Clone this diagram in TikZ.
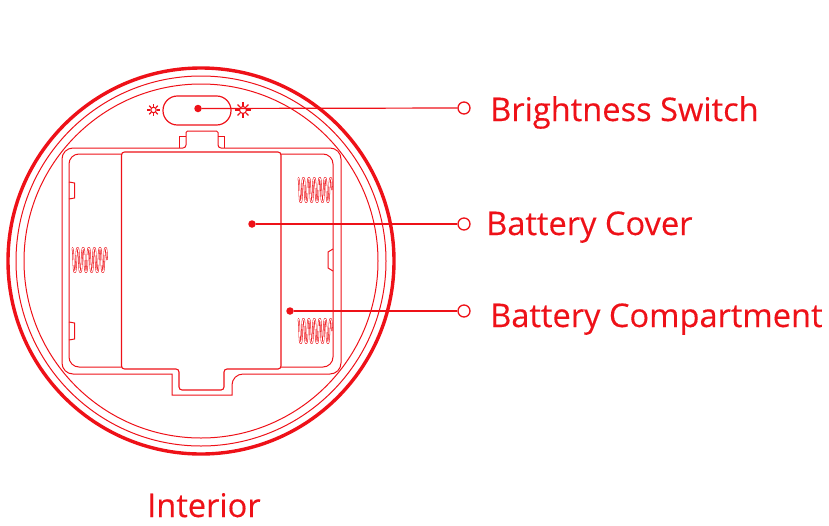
\documentclass[tikz,border=0pt]{standalone}
\usepackage{fontspec}
\setmainfont{Open Sans}
\newfontfamily\labfont{Open Sans}[FakeBold=0.25]
\definecolor{rd}{HTML}{EE1118}
\newcommand{\spring}[4]{% x0, x1, ytop, ybot
  \draw[spr] plot[samples=500,domain=0:2250,variable=\t]
   ({#1+1+(#2-#1-2)/2250*\t},{(#3+#4)/2-(#4-#3)/2*1.16*cos(\t)/sqrt(cos(\t)*cos(\t)+0.35)});
}
\newcommand{\sunicon}[3]{% x,y,r
  \draw[rd,line width=1.1pt] (#1,#2) circle[radius=#3*.5];
  \foreach \a in {0,45,...,315}
    \draw[rd,line width=1.2pt] (#1,#2)++(\a:#3*.6) -- ++(\a:#3*.5);
}
\tikzset{
  x=1pt,y=-1pt,
  thin line/.style={rd,line width=1pt},
  spr/.style={rd,line width=.55pt,line join=round,double=white,double distance=.7pt},
  dotn/.style={circle,fill=rd,inner sep=0pt,minimum size=7.5pt},
  endn/.style={circle,draw=rd,line width=1.3pt,fill=white,inner sep=0pt,minimum size=12pt},
  lead/.style={rd,line width=1.2pt},
  lab/.style={text=rd,font=\labfont\fontsize{32.6}{36}\selectfont,anchor=base west,inner sep=0pt},
}
\begin{document}
\begin{tikzpicture}
\useasboundingbox (0,0) rectangle (829,525);
% body
\draw[rd,line width=3.4pt] (201,261) circle[radius=193];
\draw[thin line] (201,261) circle[radius=185];
\draw[thin line] (201,261) circle[radius=177];
% switch
\draw[rd,line width=1.2pt,rounded corners=14.4pt] (163,96) rectangle (231,125);
\sunicon{153.5}{110}{5.5}
\sunicon{243}{110}{7}
% compartment outer wall with the cover's top tab
\draw[thin line,rounded corners=1.5pt]
  (186,136) -- (186,131) -- (218,131) -- (218,136)
  [rounded corners=3pt] -- (218,148)
  [rounded corners=11pt] -- (341,148) -- (341,374) -- (232,374)
  [sharp corners] -- (232,395) -- (172,395) -- (172,374)
  [rounded corners=11pt] -- (62,374) -- (62,148)
  [rounded corners=3pt] -- (186,148) -- (186,136);
\draw[thin line] (179,148) -- (179,136) -- (186,136) (218,136) -- (224,136) -- (224,148);
% compartment inner wall
\draw[thin line,rounded corners=10pt] (122,154) -- (69,154) -- (69,367) -- (122,367);
\draw[thin line,rounded corners=10pt] (281,154) -- (333,154) -- (333,367) -- (281,367);
% battery cover
\draw[thin line,line width=1.1pt,fill=white,rounded corners=3pt]
  (121.5,152) -- (281,152) -- (281,369) -- (224,369) -- (224,390) -- (179,390) -- (179,369)
  -- (121.5,369) -- cycle;
% tabs
\draw[thin line] (69,182) -- (74.5,183) -- (74.5,198) -- (69,199);
\draw[thin line] (69,322) -- (74.5,323) -- (74.5,339) -- (69,340);
\draw[thin line] (333,249) -- (328,252) -- (328,268) -- (333,271);
% springs
\spring{71}{108}{248}{272}
\spring{297}{333}{178}{202}
\spring{297}{333}{319}{343}
% callouts
\node[dotn] (d1) at (198,108.5) {};
\node[dotn] (d2) at (252,224) {};
\node[dotn] (d3) at (290,311) {};
\node[endn] (e1) at (464,108) {};
\node[endn] (e2) at (464,224) {};
\node[endn] (e3) at (464,311) {};
\draw[lead] (d1) -- (e1);
\draw[lead] (d2) -- (e2);
\draw[lead] (d3) -- (e3);
\node[lab] (l1) at (490,121) {Brightness Switch};
\node[lab] (l2) at (486,235) {Battery Cover};
\node[lab] (l3) at (490,327) {Battery Compartment};
\node[lab] (l4) at (147,517) {Interior};
\end{tikzpicture}
\end{document}
